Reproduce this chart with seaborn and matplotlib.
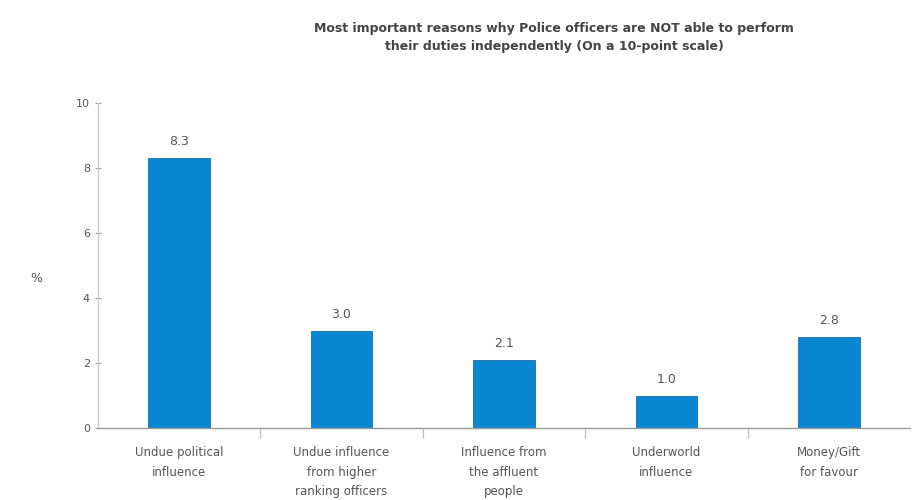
import matplotlib
matplotlib.use("Agg")
import matplotlib.pyplot as plt
import seaborn as sns
import pandas as pd
from matplotlib.ticker import FixedLocator

sns.set_style("white")
plt.rcParams["font.family"] = ["DejaVu Sans"]

categories = [
    "Undue political\ninfluence",
    "Undue influence\nfrom higher\nranking officers",
    "Influence from\nthe affluent\npeople",
    "Underworld\ninfluence",
    "Money/Gift\nfor favour",
]
scores = [8.3, 3.0, 2.1, 1.0, 2.8]
y_ticks = [0, 2, 4, 6, 8, 10]
title = ("Most important reasons why Police officers are NOT able to perform\n"
         "their duties independently (On a 10-point scale)")

df = pd.DataFrame({"reason": categories, "score": scores})

fig = plt.figure(figsize=(9.13, 5.0), dpi=100)
ax = fig.add_axes([0.107, 0.144, 0.89, 0.650])

sns.barplot(data=df, x="reason", y="score", color="#0A87D3", width=0.38,
            saturation=1, edgecolor="#1A6FA8", linewidth=0.6, ax=ax)

for i, v in enumerate(scores):
    ax.text(i, v + 0.3, f"{v:.1f}", ha="center", va="bottom",
            fontsize=9, color="#555555")

ax.set_ylim(0, 10)
ax.set_yticks(y_ticks)
ax.set_yticklabels([str(t) for t in y_ticks], fontsize=8, color="#555555")
ax.set_xlim(-0.5, len(categories) - 0.5)
ax.set_xticks(range(len(categories)))
ax.set_xticklabels(categories, fontsize=8.5, color="#555555", linespacing=1.65)
ax.tick_params(axis="x", which="major", length=0, pad=13)
ax.tick_params(axis="y", length=4, width=0.8, color="#999999", direction="inout", left=True)
ax.xaxis.set_minor_locator(FixedLocator([i + 0.5 for i in range(len(categories) - 1)]))
ax.tick_params(axis="x", which="minor", bottom=True, length=7, width=0.9,
               color="#bbbbbb", direction="out")

ax.set_xlabel("")
ax.set_ylabel("%", rotation=0, fontsize=9, color="#555555", labelpad=28, va="center")
ax.yaxis.set_label_coords(-0.075, 0.46)

for side in ["top", "right"]:
    ax.spines[side].set_visible(False)
ax.spines["left"].set_color("#cccccc")
ax.spines["bottom"].set_color("#999999")
ax.spines["left"].set_linewidth(1.0)
ax.spines["bottom"].set_linewidth(1.0)

fig.text(0.607, 0.925, title, ha="center", va="center", fontsize=9,
         fontweight="bold", color="#444444", linespacing=1.5)

fig.savefig("out.png", dpi=100)
